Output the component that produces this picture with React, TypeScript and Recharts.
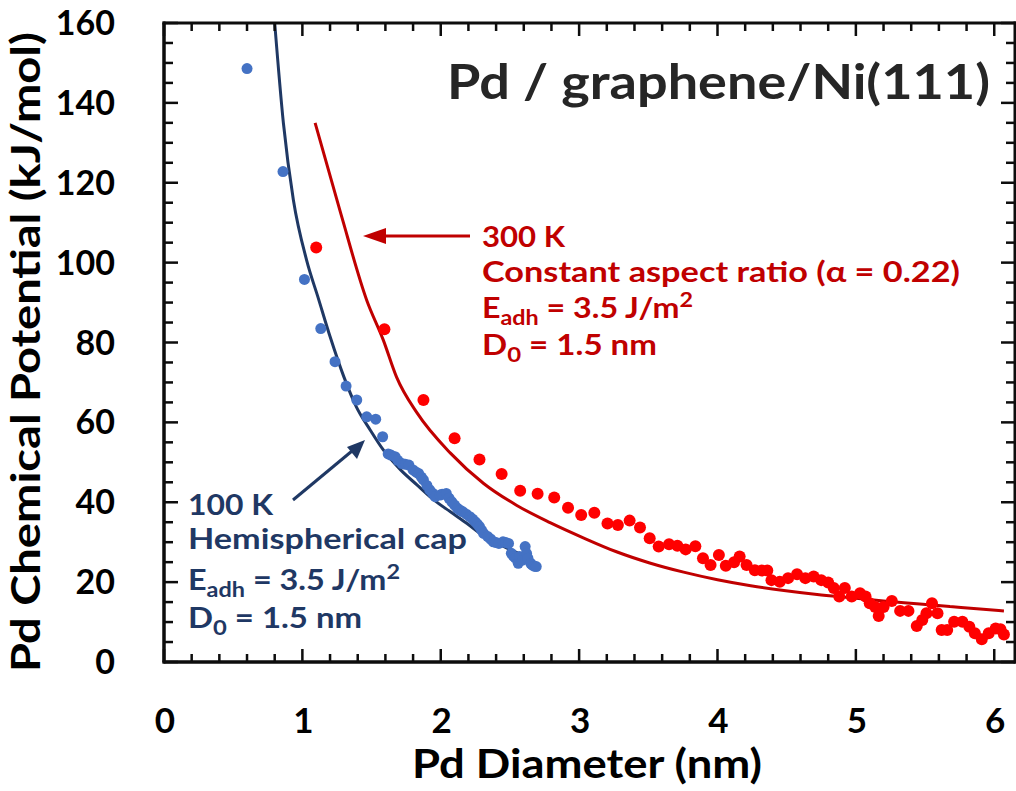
import { ComposedChart, Line, Scatter, XAxis, YAxis } from "recharts";

// measured points, 100 K (hemispherical cap)
const blue100K = [
  { x: 0.6, y: 148.6 }, { x: 0.86, y: 122.8 }, { x: 1.015, y: 95.8 }, { x: 1.133, y: 83.5 },
  { x: 1.236, y: 75.2 }, { x: 1.316, y: 69.1 }, { x: 1.393, y: 65.6 }, { x: 1.465, y: 61.4 },
  { x: 1.53, y: 60.8 }, { x: 1.58, y: 56.4 }, { x: 1.62, y: 52.1 }, { x: 1.64, y: 51.8 },
  { x: 1.67, y: 51.4 }, { x: 1.69, y: 50.5 }, { x: 1.72, y: 49.7 }, { x: 1.745, y: 49.5 },
  { x: 1.77, y: 49.3 }, { x: 1.8, y: 48.1 }, { x: 1.82, y: 47.6 }, { x: 1.84, y: 47.2 },
  { x: 1.86, y: 46.3 }, { x: 1.875, y: 45.6 }, { x: 1.9, y: 44.2 }, { x: 1.92, y: 43.1 },
  { x: 1.94, y: 42.3 }, { x: 1.96, y: 41.4 }, { x: 1.995, y: 41.8 }, { x: 2.01, y: 42.0 },
  { x: 2.04, y: 42.2 }, { x: 2.06, y: 41.0 }, { x: 2.08, y: 40.1 }, { x: 2.1, y: 39.3 },
  { x: 2.12, y: 38.5 }, { x: 2.14, y: 38.0 }, { x: 2.16, y: 37.6 }, { x: 2.185, y: 37.0 },
  { x: 2.21, y: 36.4 }, { x: 2.23, y: 35.8 }, { x: 2.25, y: 35.1 }, { x: 2.265, y: 34.5 },
  { x: 2.28, y: 33.9 }, { x: 2.295, y: 33.0 }, { x: 2.31, y: 32.2 }, { x: 2.34, y: 31.4 },
  { x: 2.36, y: 30.8 }, { x: 2.38, y: 30.1 }, { x: 2.4, y: 29.9 }, { x: 2.42, y: 29.7 },
  { x: 2.45, y: 30.1 }, { x: 2.47, y: 29.9 }, { x: 2.49, y: 29.7 }, { x: 2.51, y: 27.2 },
  { x: 2.525, y: 26.5 }, { x: 2.54, y: 26.0 }, { x: 2.56, y: 24.7 }, { x: 2.57, y: 26.4 },
  { x: 2.59, y: 25.5 }, { x: 2.61, y: 28.9 }, { x: 2.62, y: 27.2 }, { x: 2.63, y: 26.0 },
  { x: 2.65, y: 24.7 }, { x: 2.66, y: 24.3 }, { x: 2.675, y: 24.0 }, { x: 2.69, y: 23.9 },
];

// measured points, 300 K (constant aspect ratio)
const red300K = [
  { x: 1.1, y: 103.8 }, { x: 1.593, y: 83.3 }, { x: 1.875, y: 65.6 }, { x: 2.1, y: 56.0 },
  { x: 2.28, y: 50.7 }, { x: 2.44, y: 47.1 }, { x: 2.574, y: 42.9 }, { x: 2.7, y: 42.1 },
  { x: 2.82, y: 41.2 }, { x: 2.92, y: 38.6 }, { x: 3.015, y: 36.8 }, { x: 3.11, y: 37.4 },
  { x: 3.205, y: 34.7 }, { x: 3.28, y: 34.3 }, { x: 3.365, y: 35.4 }, { x: 3.44, y: 33.7 },
  { x: 3.51, y: 31.0 }, { x: 3.575, y: 28.9 }, { x: 3.65, y: 29.5 }, { x: 3.71, y: 29.1 },
  { x: 3.77, y: 28.2 }, { x: 3.84, y: 29.0 }, { x: 3.895, y: 26.0 }, { x: 3.95, y: 24.3 },
  { x: 4.01, y: 26.8 }, { x: 4.06, y: 24.1 }, { x: 4.12, y: 25.0 }, { x: 4.16, y: 26.4 },
  { x: 4.21, y: 24.3 }, { x: 4.27, y: 23.0 }, { x: 4.32, y: 22.9 }, { x: 4.36, y: 22.9 },
  { x: 4.39, y: 20.5 }, { x: 4.45, y: 20.1 }, { x: 4.51, y: 21.0 }, { x: 4.575, y: 22.0 },
  { x: 4.635, y: 21.0 }, { x: 4.695, y: 21.4 }, { x: 4.75, y: 20.5 }, { x: 4.8, y: 19.9 },
  { x: 4.84, y: 18.5 }, { x: 4.88, y: 16.4 }, { x: 4.92, y: 18.5 }, { x: 4.97, y: 16.4 },
  { x: 5.03, y: 17.2 }, { x: 5.07, y: 16.4 }, { x: 5.1, y: 14.7 }, { x: 5.14, y: 13.8 },
  { x: 5.165, y: 11.5 }, { x: 5.2, y: 13.8 }, { x: 5.26, y: 15.3 }, { x: 5.32, y: 12.8 },
  { x: 5.38, y: 12.8 }, { x: 5.44, y: 9.0 }, { x: 5.48, y: 10.5 }, { x: 5.51, y: 12.2 },
  { x: 5.55, y: 14.7 }, { x: 5.59, y: 12.2 }, { x: 5.62, y: 8.0 }, { x: 5.66, y: 8.0 },
  { x: 5.71, y: 10.1 }, { x: 5.77, y: 10.1 }, { x: 5.82, y: 8.8 }, { x: 5.86, y: 7.2 },
  { x: 5.91, y: 5.7 }, { x: 5.96, y: 7.2 }, { x: 6.01, y: 8.4 }, { x: 6.045, y: 8.2 },
  { x: 6.07, y: 6.9 },
];

// model curves
const blueFit = [
  { x: 0.8, y: 160 }, { x: 0.863, y: 134.9 }, { x: 0.935, y: 115.7 }, { x: 1.03, y: 100.7 },
  { x: 1.116, y: 91.0 }, { x: 1.2, y: 81.5 }, { x: 1.3, y: 71.4 }, { x: 1.39, y: 63.9 },
  { x: 1.49, y: 58.1 }, { x: 1.585, y: 53.1 }, { x: 1.71, y: 48.1 }, { x: 1.83, y: 44.3 },
  { x: 1.95, y: 40.6 }, { x: 2.07, y: 37.6 }, { x: 2.19, y: 34.7 }, { x: 2.285, y: 32.2 },
  { x: 2.45, y: 29.0 }, { x: 2.65, y: 26.0 },
];

const redFit = [
  { x: 1.092, y: 135 }, { x: 1.28, y: 112 }, { x: 1.465, y: 90.6 }, { x: 1.585, y: 80.6 },
  { x: 1.68, y: 71.4 }, { x: 1.83, y: 62.3 }, { x: 2.07, y: 52.3 }, { x: 2.31, y: 44.7 },
  { x: 2.55, y: 39.2 }, { x: 2.79, y: 34.9 }, { x: 3.03, y: 31.1 }, { x: 3.27, y: 27.6 },
  { x: 3.51, y: 24.8 }, { x: 3.755, y: 22.5 }, { x: 4.0, y: 20.6 }, { x: 4.24, y: 19.1 },
  { x: 4.48, y: 17.9 }, { x: 4.72, y: 16.9 }, { x: 4.96, y: 16.1 }, { x: 5.2, y: 15.3 },
  { x: 5.44, y: 14.6 }, { x: 5.68, y: 13.9 }, { x: 5.92, y: 13.2 }, { x: 6.07, y: 12.8 },
];

const xTicks = [
  0, 0.2, 0.4, 0.6, 0.8, 1, 1.2, 1.4, 1.6, 1.8, 2, 2.2, 2.4, 2.6, 2.8, 3,
  3.2, 3.4, 3.6, 3.8, 4, 4.2, 4.4, 4.6, 4.8, 5, 5.2, 5.4, 5.6, 5.8, 6,
];
const yTicks = [
  0, 5, 10, 15, 20, 25, 30, 35, 40, 45, 50, 55, 60, 65, 70, 75, 80,
  85, 90, 95, 100, 105, 110, 115, 120, 125, 130, 135, 140, 145, 150, 155, 160,
];
const xLabels = [0, 1, 2, 3, 4, 5, 6];
const yLabels = [0, 20, 40, 60, 80, 100, 120, 140, 160];

const X_MAX = 6.15;
const Y_MAX = 160;

// plot box; chart margins and axis sizes are derived from it
const W = 1016;
const H = 791;
const PLOT = { left: 164, top: 23, width: 851, height: 639 };

const FONT = "Lato, 'Open Sans', sans-serif";
const RED = "#C00000";
const NAVY = "#1F3864";
const INK = "#0d0d0d";

const isMajorX = (v: number) => Number.isInteger(v);
const isMajorY = (v: number) => v % 20 === 0;

// same linear mapping as the chart's axes, used for the inward frame ticks
const px = (v: number) => PLOT.left + (v / X_MAX) * PLOT.width;
const py = (v: number) => PLOT.top + PLOT.height - (v / Y_MAX) * PLOT.height;

function BottomTick({ x, y, payload }: any) {
  return (
    <text x={x + 1} y={y + 71} textAnchor="middle" fontFamily={FONT} fontWeight={700} fontSize={35} fill="#000">
      {payload.value}
    </text>
  );
}

function LeftTick({ x, y, payload }: any) {
  return (
    <text x={x - 49} y={y + 12} textAnchor="end" fontFamily={FONT} fontWeight={700} fontSize={34} fill="#000">
      {payload.value}
    </text>
  );
}

const dot = (r: number, fill: string) => (p: any) => <circle cx={p.cx} cy={p.cy} r={r} fill={fill} />;

// frame and inward ticks as filled rectangles
function Frame() {
  const bottom = PLOT.top + PLOT.height;
  const right = PLOT.left + PLOT.width;
  const bars: { x: number; y: number; w: number; h: number }[] = [
    { x: PLOT.left - 1.5, y: PLOT.top - 1.5, w: PLOT.width + 3, h: 3 },
    { x: PLOT.left - 1.5, y: bottom - 1.5, w: PLOT.width + 3, h: 3 },
    { x: PLOT.left - 1.5, y: PLOT.top - 1.5, w: 3, h: PLOT.height + 3 },
    { x: right - 1.5, y: PLOT.top - 1.5, w: 3, h: PLOT.height + 3 },
  ];
  xTicks.forEach((v) => {
    const len = isMajorX(v) ? 13 : 8;
    const x = px(v) - 1.25;
    bars.push({ x, y: bottom - len, w: 2.5, h: len });
    bars.push({ x, y: PLOT.top, w: 2.5, h: len });
  });
  yTicks.forEach((v) => {
    const len = isMajorY(v) ? 14 : 9;
    const y = py(v) - 1.25;
    bars.push({ x: PLOT.left, y, w: len, h: 2.5 });
    bars.push({ x: right - len, y, w: len, h: 2.5 });
  });
  return (
    <g>
      {bars.map((b, i) => (
        <rect key={i} x={b.x} y={b.y} width={b.w} height={b.h} fill={INK} />
      ))}
    </g>
  );
}

function Notes() {
  const t = { fontFamily: FONT, fontWeight: 700 } as const;
  return (
    <svg width={W} height={H} style={{ position: "absolute", left: 0, top: 0, pointerEvents: "none" }}>
      <Frame />
      <text {...t} x={447} y={99} fontSize={47} fill="#262626" textLength={543} lengthAdjust="spacingAndGlyphs">
        Pd / graphene/Ni(111)
      </text>

      {/* 300 K block */}
      <line x1={470} y1={236} x2={380} y2={236} stroke={RED} strokeWidth={3} />
      <path d="M363,236 L386,228 L386,244 z" fill={RED} />
      <g {...t} fill={RED} fontSize={29}>
        <text x={482} y={247} textLength={83} lengthAdjust="spacingAndGlyphs">300 K</text>
        <text x={482} y={282} textLength={478} lengthAdjust="spacingAndGlyphs">Constant aspect ratio (α = 0.22)</text>
        <text x={482} y={318} textLength={211} lengthAdjust="spacingAndGlyphs">
          E<tspan fontSize={21} dy={7}>adh</tspan>
          <tspan dy={-7}> = 3.5 J/m</tspan>
          <tspan fontSize={21} dy={-11}>2</tspan>
        </text>
        <text x={482} y={355} textLength={175} lengthAdjust="spacingAndGlyphs">
          D<tspan fontSize={21} dy={7}>0</tspan>
          <tspan dy={-7}> = 1.5 nm</tspan>
        </text>
      </g>

      {/* 100 K block */}
      <line x1={293} y1={500} x2={352} y2={451} stroke={NAVY} strokeWidth={3} />
      <path d="M365,440 L347,447 L357,459 z" fill={NAVY} />
      <g {...t} fill={NAVY} fontSize={29}>
        <text x={188} y={515} textLength={85} lengthAdjust="spacingAndGlyphs">100 K</text>
        <text x={188} y={549} textLength={279} lengthAdjust="spacingAndGlyphs">Hemispherical cap</text>
        <text x={188} y={590} textLength={212} lengthAdjust="spacingAndGlyphs">
          E<tspan fontSize={21} dy={7}>adh</tspan>
          <tspan dy={-7}> = 3.5 J/m</tspan>
          <tspan fontSize={21} dy={-11}>2</tspan>
        </text>
        <text x={188} y={628} textLength={174} lengthAdjust="spacingAndGlyphs">
          D<tspan fontSize={21} dy={7}>0</tspan>
          <tspan dy={-7}> = 1.5 nm</tspan>
        </text>
      </g>

      <text {...t} x={587} y={778} fontSize={40} fill="#000" textAnchor="middle" textLength={350} lengthAdjust="spacingAndGlyphs">
        Pd Diameter (nm)
      </text>
      <text {...t} x={0} y={0} fontSize={40} fill="#000" textAnchor="middle" textLength={640} lengthAdjust="spacingAndGlyphs"
        transform="translate(40,352) rotate(-90)">
        Pd Chemical Potential (kJ/mol)
      </text>
    </svg>
  );
}

export default function App() {
  return (
    <div style={{ position: "absolute", left: 0, top: 0, width: W, height: H, background: "#fff" }}>
      <ComposedChart width={W} height={H}
        margin={{ top: PLOT.top, right: W - PLOT.left - PLOT.width, bottom: 0, left: 0 }}>
        <XAxis dataKey="x" type="number" domain={[0, X_MAX]} ticks={xLabels} interval={0}
          height={H - PLOT.top - PLOT.height} tickSize={0} tickMargin={0} tickLine={false}
          axisLine={{ stroke: INK, strokeWidth: 3 }} tick={<BottomTick />} />
        <YAxis dataKey="y" type="number" domain={[0, Y_MAX]} ticks={yLabels} interval={0}
          width={PLOT.left} tickSize={0} tickMargin={0} tickLine={false}
          axisLine={{ stroke: INK, strokeWidth: 3 }} tick={<LeftTick />} />

        <Line data={blueFit} dataKey="y" type="monotone" stroke={NAVY} strokeWidth={3}
          dot={false} activeDot={false} isAnimationActive={false} />
        <Line data={redFit} dataKey="y" type="monotone" stroke={RED} strokeWidth={3}
          dot={false} activeDot={false} isAnimationActive={false} />
        <Scatter data={blue100K} dataKey="y" shape={dot(5.5, "#4472C4")} isAnimationActive={false} />
        <Scatter data={red300K} dataKey="y" shape={dot(6, "#FF0000")} isAnimationActive={false} />
      </ComposedChart>
      <Notes />
    </div>
  );
}
